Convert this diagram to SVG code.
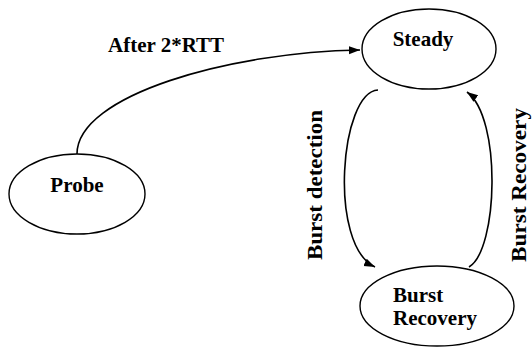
<svg xmlns="http://www.w3.org/2000/svg" width="532" height="349" viewBox="0 0 532 349">
<style>
.node{fill:#fff;stroke:#000;stroke-width:1.4}
.lbl{font-family:"Liberation Serif","Times New Roman",serif;font-weight:bold;font-size:21px;fill:#000}
.edge{fill:none;stroke:#000;stroke-width:1.6}
</style>
<defs>
<marker id="arr" markerUnits="userSpaceOnUse" markerWidth="12" markerHeight="10" refX="11" refY="4" orient="auto">
<path d="M0,0 L11,4 L0,8 Z" fill="#000"/>
</marker>
</defs>
<rect width="532" height="349" fill="#fff"/>
<g id="connectors">
<path class="edge" d="M77,154 C77,95 230,52 360,50" marker-end="url(#arr)"/>
<path class="edge" d="M378,90 C340,92 328,245 375,267" marker-end="url(#arr)"/>
<path class="edge" d="M469,267 C498,250 502,118 467,92" marker-end="url(#arr)"/>
<text class="lbl" x="108" y="52">After 2*RTT</text>
<text class="lbl" transform="translate(322,260) rotate(-90)" style="font-size:22px" textLength="150" lengthAdjust="spacingAndGlyphs">Burst detection</text>
<text class="lbl" transform="translate(526,262) rotate(-90)" style="font-size:21px" textLength="154" lengthAdjust="spacingAndGlyphs">Burst Recovery</text>
</g>
<g id="steady">
<ellipse class="node" cx="429" cy="49" rx="67" ry="40"/>
<text class="lbl" x="423" y="46" text-anchor="middle">Steady</text>
</g>
<g id="probe">
<ellipse class="node" cx="77" cy="194" rx="68" ry="40"/>
<text class="lbl" x="77" y="192" text-anchor="middle">Probe</text>
</g>
<g id="burst-recovery">
<ellipse class="node" cx="437" cy="306" rx="77" ry="40"/>
<text class="lbl" x="393" y="302">Burst</text>
<text class="lbl" x="393" y="325">Recovery</text>
</g>
</svg>
